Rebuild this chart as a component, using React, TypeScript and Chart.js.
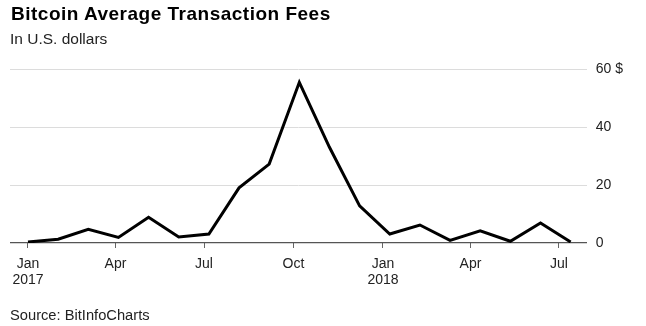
import React, { useEffect, useRef } from "react";
import { Chart, registerables } from "chart.js";

Chart.register(...registerables);

const TITLE = "Bitcoin Average Transaction Fees";
const SUBTITLE = "In U.S. dollars";
const SOURCE = "Source: BitInfoCharts";

const START = "2017-01-01";
const pointDates = [
  "2017-01-01", "2017-02-01", "2017-03-04", "2017-04-04", "2017-05-05",
  "2017-06-05", "2017-07-06", "2017-08-06", "2017-09-06", "2017-10-07",
  "2017-11-07", "2017-12-08", "2018-01-08", "2018-02-08", "2018-03-11",
  "2018-04-11", "2018-05-12", "2018-06-12", "2018-07-13",
];
const fees = [
  0.35, 1.3, 4.7, 1.9, 8.9, 2.1, 3.1, 19.0, 27.2, 55.4,
  33.0, 12.8, 3.1, 6.2, 0.9, 4.2, 0.6, 6.9, 0.35,
];
const tickDates = ["2017-01-01", "2017-04-01", "2017-07-01", "2017-10-01", "2018-01-01", "2018-04-01", "2018-07-01"];
const tickLabels: (string | string[])[] = [["Jan", "2017"], "Apr", "Jul", "Oct", ["Jan", "2018"], "Apr", "Jul"];
const yTicks = [0, 20, 40, 60];

const dayOf = (s: string) => {
  const [y, m, d] = s.split("-").map(Number);
  const [y0, m0, d0] = START.split("-").map(Number);
  return (Date.UTC(y, m - 1, d) - Date.UTC(y0, m0 - 1, d0)) / 86400000;
};

const FONT = "'Liberation Sans', Arial, Helvetica, sans-serif";

export default function App() {
  const ref = useRef<HTMLCanvasElement>(null);
  useEffect(() => {
    if (!ref.current) return;
    const tickDays = tickDates.map(dayOf);
    const chart = new Chart(ref.current, {
      type: "line",
      data: {
        datasets: [
          {
            data: pointDates.map((d, i) => ({ x: dayOf(d), y: fees[i] })),
            borderColor: "#000",
            borderWidth: 3,
            pointRadius: 0,
            tension: 0,
            borderJoinStyle: "miter",
            fill: false,
          },
        ],
      },
      options: {
        animation: false,
        responsive: false,
        maintainAspectRatio: false,
        layout: { padding: { left: 10, right: 0, top: 69, bottom: 0 } },
        plugins: { legend: { display: false }, tooltip: { enabled: false } },
        scales: {
          x: {
            type: "linear",
            min: -18.5,
            max: 574.5,
            afterBuildTicks: (s: any) => {
              s.ticks = tickDays.map((v) => ({ value: v }));
            },
            afterFit: (s: any) => {
              s.height = 83;
            },
            border: { display: false },
            grid: {
              drawOnChartArea: false,
              drawTicks: true,
              tickLength: 5,
              color: "#666",
              lineWidth: 1,
            },
            ticks: {
              autoSkip: false,
              maxRotation: 0,
              padding: 8,
              color: "#222",
              font: { family: FONT, size: 14, lineHeight: 1.15 },
              callback: (v: any) => {
                const i = tickDays.indexOf(Number(v));
                return i >= 0 ? tickLabels[i] : "";
              },
            },
          },
          y: {
            position: "right",
            min: 0,
            max: 60,
            afterBuildTicks: (s: any) => {
              s.ticks = yTicks.map((v) => ({ value: v }));
            },
            afterFit: (s: any) => {
              s.width = 59.3;
            },
            border: { display: false },
            grid: {
              drawTicks: false,
              color: (ctx: any) => (ctx.tick && ctx.tick.value === 0 ? "#555" : "#dcdcdc"),
              lineWidth: (ctx: any) => (ctx.tick && ctx.tick.value === 0 ? 1.2 : 1),
            },
            ticks: {
              padding: 9,
              color: "#222",
              font: { family: FONT, size: 14 },
              callback: (v: any) => (Number(v) === 60 ? "60 $" : String(v)),
            },
          },
        },
      },
    });
    return () => chart.destroy();
  }, []);

  return (
    <div style={{ position: "fixed", left: 0, top: 0, width: 646, height: 326, background: "#fff", fontFamily: FONT }}>
      <canvas ref={ref} width={646} height={326} style={{ position: "absolute", left: 0, top: 0 }} />
      <div style={{ position: "absolute", left: 11, top: 4, fontSize: 19, lineHeight: 1, letterSpacing: 0.5, fontWeight: 700, color: "#000", whiteSpace: "nowrap" }}>
        {TITLE}
      </div>
      <div style={{ position: "absolute", left: 10, top: 30.5, fontSize: 15.5, lineHeight: 1, color: "#222", whiteSpace: "nowrap" }}>
        {SUBTITLE}
      </div>
      <div style={{ position: "absolute", left: 10, top: 308, fontSize: 14.7, lineHeight: 1, color: "#222", whiteSpace: "nowrap" }}>
        {SOURCE}
      </div>
    </div>
  );
}
